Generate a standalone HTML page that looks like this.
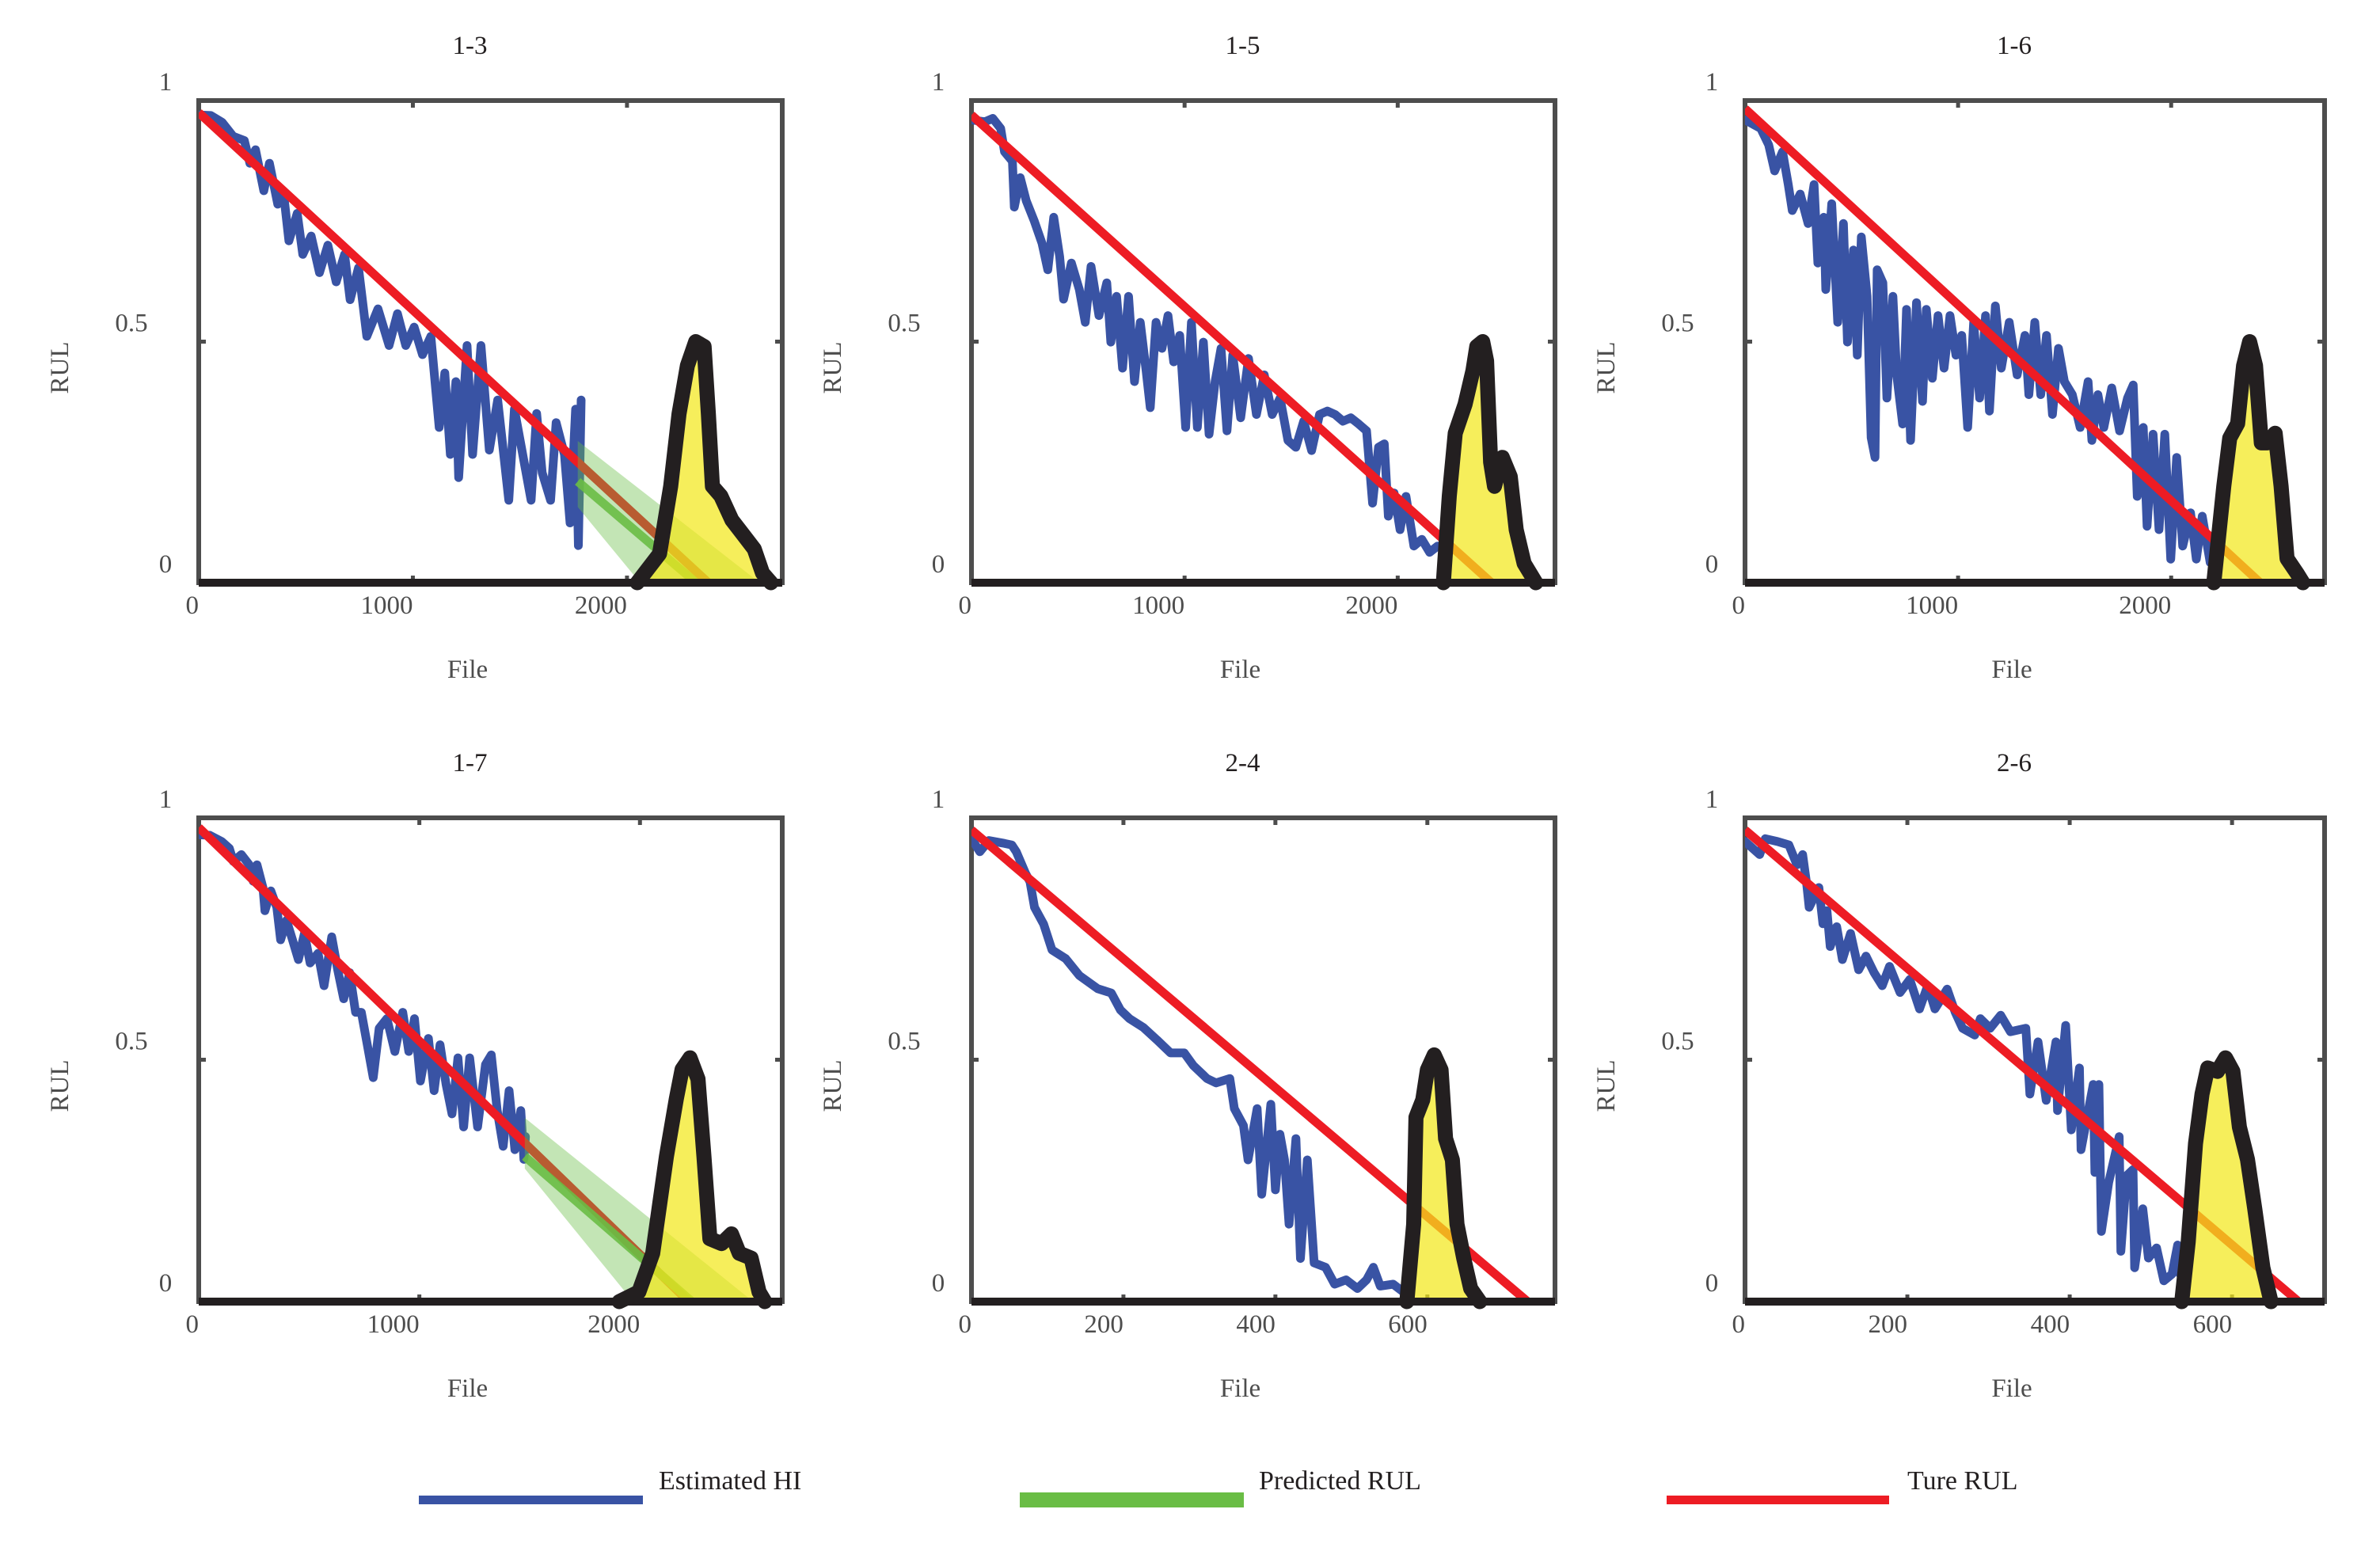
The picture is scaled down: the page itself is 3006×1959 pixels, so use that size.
<!DOCTYPE html>
<html><head><meta charset="utf-8"><style>
html,body{margin:0;padding:0;background:#fff}
svg{display:block}
text{font-family:"Liberation Serif",serif}
</style></head><body>
<svg id="chart" xmlns="http://www.w3.org/2000/svg" width="3006" height="1959" viewBox="0 0 3006 1959">
<rect x="0" y="0" width="3006" height="1959" fill="#fff"/>
<g id="panels"></g>
<g id="legend">
  <g>
    <rect x="529" y="1889" width="283" height="11" fill="#3953a4"/>
    <text x="832" y="1881" font-size="34" fill="#231f20">Estimated HI</text>
  </g>
  <g>
    <rect x="1288" y="1885" width="283" height="19" fill="#6abd45"/>
    <text x="1590" y="1881" font-size="34" fill="#231f20">Predicted RUL</text>
  </g>
  <g>
    <rect x="2105" y="1889" width="281" height="11" fill="#ed1c24"/>
    <text x="2409" y="1881" font-size="34" fill="#231f20">Ture RUL</text>
  </g>
</g>
</svg>
<script>
// ---- data ----
const titles = ["1-3","1-5","1-6","1-7","2-4","2-6"];
const xMaxes = [2725,2738,2720,2645,768,714];
const tickSetA = [0,1000,2000];
const tickSetB = [0,200,400,600];
const yTicks = [0,0.5,1];
const yTickLabels = ["0","0.5","1"];

const p1HiX = [0,57,109,161,213,239,265,304,330,369,395,421,460,486,525,564,603,642,681,707,746,785,837,889,928,967,1006,1045,1084,1123,1149,1175,1201,1214,1253,1279,1318,1357,1396,1448,1474,1513,1552,1578,1604,1643,1669,1708,1734,1760,1773,1786];
const p1HiY = [0.97,0.969,0.955,0.926,0.917,0.870,0.898,0.813,0.870,0.785,0.813,0.709,0.766,0.681,0.719,0.643,0.700,0.624,0.681,0.587,0.653,0.511,0.568,0.492,0.558,0.492,0.530,0.473,0.511,0.322,0.435,0.266,0.417,0.218,0.492,0.266,0.492,0.275,0.379,0.171,0.360,0.266,0.171,0.351,0.228,0.171,0.332,0.266,0.124,0.360,0.077,0.379];
const p2HiX = [0,63,100,137,155,192,201,229,257,294,331,358,386,414,432,469,506,534,561,598,635,654,681,709,737,765,792,820,839,866,894,922,949,977,1005,1032,1060,1088,1115,1143,1171,1199,1226,1263,1300,1337,1374,1411,1448,1485,1522,1559,1596,1633,1670,1706,1743,1780,1817,1854,1882,1910,1937,1956,1983,2011,2039,2076,2113,2150,2187];
const p2HiY = [0.96,0.956,0.963,0.942,0.894,0.874,0.779,0.840,0.792,0.751,0.704,0.649,0.758,0.676,0.588,0.663,0.608,0.540,0.656,0.554,0.622,0.499,0.594,0.445,0.594,0.417,0.540,0.438,0.363,0.540,0.486,0.554,0.458,0.513,0.322,0.540,0.322,0.499,0.308,0.417,0.486,0.315,0.472,0.342,0.465,0.349,0.431,0.349,0.383,0.295,0.281,0.335,0.274,0.349,0.356,0.349,0.335,0.342,0.329,0.315,0.165,0.281,0.288,0.138,0.186,0.110,0.179,0.076,0.090,0.063,0.076];
const p3HiX = [0,74,111,139,176,203,222,259,296,324,342,370,379,407,435,462,481,509,527,546,573,592,610,620,647,666,694,712,740,758,777,805,833,851,879,906,934,962,990,1017,1045,1073,1101,1129,1147,1175,1203,1240,1277,1314,1332,1360,1388,1415,1443,1471,1499,1536,1573,1610,1628,1656,1684,1721,1758,1795,1822,1841,1869,1887,1915,1943,1970,1998,2026,2054,2091,2118,2146,2183,2220];
const p3HiY = [0.960,0.942,0.908,0.854,0.894,0.826,0.772,0.806,0.745,0.826,0.663,0.758,0.608,0.786,0.540,0.745,0.499,0.690,0.472,0.717,0.594,0.301,0.260,0.649,0.622,0.383,0.594,0.431,0.329,0.567,0.295,0.581,0.376,0.567,0.424,0.554,0.445,0.554,0.472,0.513,0.322,0.540,0.383,0.554,0.356,0.574,0.445,0.540,0.431,0.513,0.390,0.540,0.390,0.513,0.349,0.486,0.417,0.390,0.322,0.417,0.295,0.390,0.322,0.404,0.315,0.383,0.410,0.179,0.322,0.117,0.308,0.110,0.308,0.049,0.260,0.076,0.145,0.049,0.138,0.042,0.090];
const p4HiX = [0,50,104,139,157,193,229,247,264,291,300,327,354,371,398,425,452,479,505,541,568,603,630,657,684,711,737,764,791,818,853,889,925,952,978,1005,1041,1067,1094,1121,1148,1175,1201,1228,1264,1300,1326,1353,1380,1407,1433,1460,1474,1481];
const p4HiY = [0.965,0.964,0.951,0.937,0.910,0.924,0.903,0.869,0.903,0.856,0.808,0.849,0.815,0.748,0.788,0.748,0.707,0.761,0.700,0.720,0.653,0.754,0.686,0.626,0.680,0.598,0.598,0.531,0.463,0.565,0.585,0.517,0.598,0.517,0.585,0.456,0.544,0.436,0.531,0.449,0.388,0.504,0.361,0.504,0.361,0.490,0.510,0.395,0.321,0.436,0.314,0.395,0.294,0.341];
const p5HiX = [0,11,23,41,53,59,71,77,83,95,106,124,142,166,184,196,208,226,244,262,280,292,310,322,340,346,358,364,376,382,394,400,406,412,418,427,433,442,451,466,478,493,508,520,529,538,555,570];
const p5HiY = [0.957,0.930,0.953,0.948,0.944,0.930,0.886,0.868,0.815,0.780,0.727,0.709,0.674,0.647,0.638,0.603,0.585,0.567,0.541,0.514,0.514,0.488,0.461,0.452,0.461,0.399,0.364,0.293,0.399,0.222,0.408,0.231,0.346,0.293,0.160,0.337,0.089,0.293,0.080,0.071,0.036,0.045,0.027,0.045,0.071,0.032,0.036,0.018];
const p6HiX = [0,18,25,40,54,64,71,76,79,91,96,101,105,113,120,130,140,149,159,169,178,191,203,215,225,234,249,259,268,283,290,302,315,327,346,351,361,371,383,385,395,402,412,414,429,431,436,439,448,461,463,470,478,480,490,497,507,516,526,533,536];
const p6HiY = [0.951,0.924,0.957,0.951,0.944,0.903,0.924,0.863,0.815,0.856,0.781,0.808,0.734,0.775,0.707,0.761,0.686,0.714,0.680,0.653,0.693,0.639,0.666,0.605,0.653,0.605,0.646,0.598,0.565,0.551,0.585,0.565,0.592,0.558,0.565,0.429,0.537,0.416,0.537,0.395,0.571,0.355,0.483,0.314,0.449,0.267,0.449,0.145,0.246,0.341,0.104,0.260,0.273,0.070,0.192,0.090,0.111,0.043,0.057,0.117,0.057];

const trueStartY = [0.975,0.97,0.983,0.98,0.975,0.975];
const trueZeroX = [2380,2440,2418,2221,732,682];
const predStartX = [1770,null,null,1478,null,null];
const predStartY = [0.21,null,null,0.30,null,null];
const predEndX = [2323,null,null,2236,null,null];
const bandTop = [0.294,null,null,0.38,null,null];
const bandBottom = [0.157,null,null,0.275,null,null];
const bandUpperEndX = [2620,null,null,2513,null,null];
const bandLowerEndX = [2061,null,null,1969,null,null];

const p1PdfX = [2048,2152,2204,2243,2282,2321,2360,2380,2399,2438,2490,2542,2594,2633,2672];
const p1PdfY = [0,0.06,0.2,0.35,0.45,0.5,0.49,0.35,0.2,0.18,0.13,0.1,0.07,0.02,0];
const p2PdfX = [2214,2242,2270,2316,2353,2371,2399,2417,2436,2454,2491,2528,2556,2593,2648];
const p2PdfY = [0,0.18,0.31,0.37,0.44,0.49,0.5,0.46,0.25,0.2,0.26,0.22,0.11,0.04,0];
const p3PdfX = [2200,2247,2275,2312,2340,2368,2396,2423,2451,2488,2516,2544,2590,2618];
const p3PdfY = [0,0.2,0.3,0.33,0.45,0.5,0.45,0.29,0.29,0.31,0.2,0.05,0.02,0];
const p4PdfX = [1906,1995,2058,2120,2165,2191,2227,2263,2290,2317,2370,2415,2450,2504,2540,2566];
const p4PdfY = [0,0.02,0.1,0.3,0.42,0.48,0.504,0.46,0.3,0.13,0.12,0.14,0.1,0.09,0.02,0];
const p5PdfX = [573,582,585,594,600,609,618,624,633,639,648,657,669];
const p5PdfY = [0,0.16,0.381,0.417,0.479,0.51,0.479,0.337,0.293,0.16,0.089,0.027,0];
const p6PdfX = [538,546,555,563,570,582,592,601,609,619,628,638,648];
const p6PdfY = [0,0.124,0.327,0.429,0.483,0.476,0.504,0.476,0.361,0.294,0.192,0.07,0];

const hiXs = [p1HiX,p2HiX,p3HiX,p4HiX,p5HiX,p6HiX];
const hiYs = [p1HiY,p2HiY,p3HiY,p4HiY,p5HiY,p6HiY];
const pdfXs = [p1PdfX,p2PdfX,p3PdfX,p4PdfX,p5PdfX,p6PdfX];
const pdfYs = [p1PdfY,p2PdfY,p3PdfY,p4PdfY,p5PdfY,p6PdfY];

// ---- layout (not data) ----
const colLeft = [251,1227,2204];
const colWidth = [737,737,732];
const rowTop = [127,1033];
const rowHeight = [609,611];
const FS = 33;

const NS = "http://www.w3.org/2000/svg";
function mk(tag, attrs, parent){
  const e = document.createElementNS(NS, tag);
  for (const k in attrs) e.setAttribute(k, attrs[k]);
  parent.appendChild(e);
  return e;
}
const root = document.getElementById('panels');

for (let i = 0; i < 6; i++){
  const col = i % 3, row = Math.floor(i / 3);
  const L = colLeft[col], W = colWidth[col], T = rowTop[row], H = rowHeight[row];
  const xMax = xMaxes[i];
  const sx = v => L + v / xMax * W;
  const sy = v => T + H - v * H;
  const g = mk('g', {}, root);
  
  
  const clipId = 'clip' + i;
  const cp = mk('clipPath', {id: clipId}, g);
  mk('rect', {x: L, y: T, width: W, height: H + 12}, cp);

  const t = mk('text', {x: L + W/2 - 26, y: T - 59, 'font-size': FS, 'text-anchor': 'middle', fill: '#231f20'}, g);
  t.textContent = titles[i];
  
  

  const fr = mk('rect', {x: L, y: T, width: W, height: H, fill: 'none', stroke: '#4d4d4d', 'stroke-width': 6}, g);
  
  

  const ticks = xMax > 1000 ? tickSetA : tickSetB;
  ticks.forEach(tv => {
    const x = sx(tv);
    mk('line', {x1: x, y1: T, x2: x, y2: T + 9, stroke: '#4d4d4d', 'stroke-width': 5}, g);
    mk('line', {x1: x, y1: T + H, x2: x, y2: T + H - 9, stroke: '#4d4d4d', 'stroke-width': 5}, g);
    const lb = mk('text', {x: x, y: T + H + 39, 'font-size': FS, 'text-anchor': 'end', fill: '#4d4d4d'}, g);
    lb.textContent = String(tv);
    
    
  });
  yTicks.forEach((tv, k) => {
    const y = sy(tv);
    mk('line', {x1: L, y1: y, x2: L + 9, y2: y, stroke: '#4d4d4d', 'stroke-width': 5}, g);
    mk('line', {x1: L + W, y1: y, x2: L + W - 9, y2: y, stroke: '#4d4d4d', 'stroke-width': 5}, g);
    const lx = yTickLabels[k] === "0.5" ? L - 85 : L - 42;
    const lb = mk('text', {x: lx, y: y - 13, 'font-size': FS, 'text-anchor': 'middle', fill: '#4d4d4d'}, g);
    lb.textContent = yTickLabels[k];
    
    
  });

  const xl = mk('text', {x: L + W/2 - 29, y: T + H + 120, 'font-size': FS, 'text-anchor': 'middle', fill: '#4d4d4d'}, g);
  xl.textContent = 'File';
  
  
  const cy = T + H/2 + 33;
  const yl = mk('text', {x: L - 176, y: cy + 11, 'font-size': FS, 'text-anchor': 'middle', fill: '#4d4d4d', transform: 'rotate(-90 ' + (L - 176) + ' ' + cy + ')'}, g);
  yl.textContent = 'RUL';
  
  

  const pg = mk('g', {'clip-path': 'url(#' + clipId + ')'}, g);

  const hx = hiXs[i], hy = hiYs[i];
  let d = '';
  hx.forEach((xv, k) => { d += (k ? 'L' : 'M') + sx(xv).toFixed(1) + ',' + sy(hy[k]).toFixed(1); });
  const hi = mk('path', {d: d, fill: 'none', stroke: '#3953a4', 'stroke-width': 11, 'stroke-linejoin': 'round', 'stroke-linecap': 'round'}, pg);
  
  

  const tr = mk('line', {x1: sx(0), y1: sy(trueStartY[i]), x2: sx(trueZeroX[i]), y2: sy(0), stroke: '#ed1c24', 'stroke-width': 11}, pg);
  
  

  if (predStartX[i] !== null){
    const bx = predStartX[i];
    const band = mk('polygon', {points: [sx(bx)+','+sy(bandTop[i]), sx(bandUpperEndX[i])+','+sy(0), sx(bandLowerEndX[i])+','+sy(0), sx(bx)+','+sy(bandBottom[i])].join(' '), fill: '#6abd45', 'fill-opacity': 0.4}, pg);
    
    
    const pl = mk('line', {x1: sx(bx), y1: sy(predStartY[i]), x2: sx(predEndX[i]), y2: sy(0), stroke: '#6abd45', 'stroke-width': 11, 'stroke-opacity': 0.9}, pg);
    
    
  }

  const px = pdfXs[i], py = pdfYs[i];
  let fd = '';
  px.forEach((xv, k) => { fd += (k ? 'L' : 'M') + sx(xv).toFixed(1) + ',' + sy(py[k]).toFixed(1); });
  const fill = mk('path', {d: fd + 'Z', fill: '#f2e81c', 'fill-opacity': 0.72}, pg);
  
  
  const base = mk('line', {x1: L, y1: sy(0), x2: L + W, y2: sy(0), stroke: '#231f20', 'stroke-width': 10}, g);
  
  
  const curve = mk('path', {d: fd, fill: 'none', stroke: '#231f20', 'stroke-width': 19, 'stroke-linejoin': 'round', 'stroke-linecap': 'round'}, g);
  
  
}
</script>
</body></html>
